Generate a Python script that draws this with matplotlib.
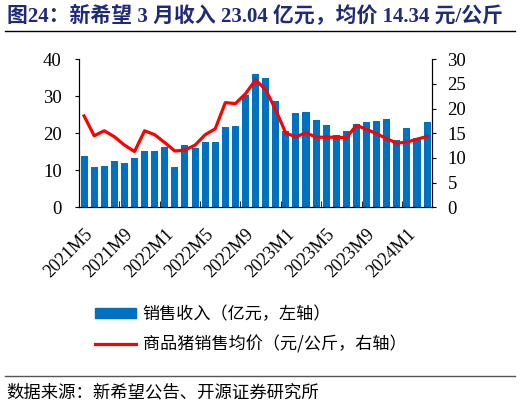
import matplotlib.pyplot as plt
from matplotlib.patches import Patch
from matplotlib.lines import Line2D
import numpy as np

# months 2021M5 .. 2024M3
months = []
for y in (2021, 2022, 2023, 2024):
    for m in range(1, 13):
        if (y == 2021 and m < 5) or (y == 2024 and m > 3):
            continue
        months.append(f"{y}M{m}")

revenue = [13.9, 10.8, 11.2, 12.4, 11.9, 13.2, 15.2, 15.2, 16.3, 10.9,
           16.8, 15.9, 17.6, 17.6, 21.6, 21.9, 30.2, 36.1, 34.8, 28.6,
           20.5, 25.4, 25.8, 23.5, 22.3, 19.5, 20.5, 22.4, 23.1, 23.4,
           23.8, 18.2, 21.4, 18.8, 23.04]
price = [18.5, 14.5, 15.5, 14.3, 12.6, 11.3, 15.5, 14.7, 13.1, 11.4,
         11.6, 12.6, 14.7, 15.9, 21.2, 21.0, 23.0, 25.8, 23.8, 19.7,
         15.0, 14.3, 15.1, 14.2, 14.2, 14.2, 14.1, 16.6, 15.8, 14.9,
         13.9, 13.0, 13.2, 13.8, 14.34]

serif = ['Liberation Serif', 'Noto Sans CJK SC']
cjk = ['Noto Sans CJK SC', 'DejaVu Sans']
plt.rcParams['font.family'] = serif

fig = plt.figure(figsize=(5.2, 4.05), dpi=100)
ax = fig.add_axes([0.152, 0.488, 0.679, 0.366])
ax2 = ax.twinx()

x = np.arange(len(months))
ax.bar(x, revenue, width=0.7, color='#0070C0')
ax2.plot(x, price, color='#FF0000', lw=2.3)

ax.set_xlim(-0.5, len(months) - 0.5)
ax.set_ylim(0, 40)
ax.set_yticks([0, 10, 20, 30, 40])
ax2.set_ylim(0, 30)
ax2.set_yticks([0, 5, 10, 15, 20, 25, 30])

lab_idx = x[::4]
ax.set_xticks(lab_idx)
ax.set_xticklabels([months[i] for i in lab_idx], rotation=45, ha='right',
                   rotation_mode='anchor', fontsize=13)
ax.set_xticks(np.arange(3.5, len(months) - 1, 4), minor=True)
ax.tick_params(axis='x', which='major', length=0, pad=13)
ax.tick_params(axis='x', which='minor', direction='in', length=4)
ax.tick_params(axis='y', labelsize=13.5, length=3, pad=9.5)
ax2.tick_params(axis='y', labelsize=13.5, length=3, pad=8)

for a in (ax, ax2):
    a.spines['top'].set_visible(False)

handles = [Patch(color='#0070C0'), Line2D([], [], color='#FF0000', lw=2.3)]
labels = ['销售收入（亿元，左轴）', '商品猪销售均价（元/公斤，右轴）']
fig.legend(handles, labels, loc='upper left', bbox_to_anchor=(0.153, 0.285),
           frameon=False, prop={'family': cjk, 'size': 12.3},
           handlelength=2.4, handleheight=0.6, labelspacing=0.75, handletextpad=0.4)

fig.text(0.013, 0.945, '图24：新希望 3 月收入 23.04 亿元，均价 14.34 元/公斤',
         fontsize=15, fontweight='bold', color='#1F2A78', family=serif)
fig.add_artist(Line2D([0.01, 0.99], [0.923, 0.923], color='black', lw=1))
fig.add_artist(Line2D([0.01, 0.99], [0.072, 0.072], color='#555555', lw=1))
fig.text(0.013, 0.02, '数据来源：新希望公告、开源证券研究所', fontsize=12.5, family=cjk)

fig.savefig('out.png', dpi=100)
